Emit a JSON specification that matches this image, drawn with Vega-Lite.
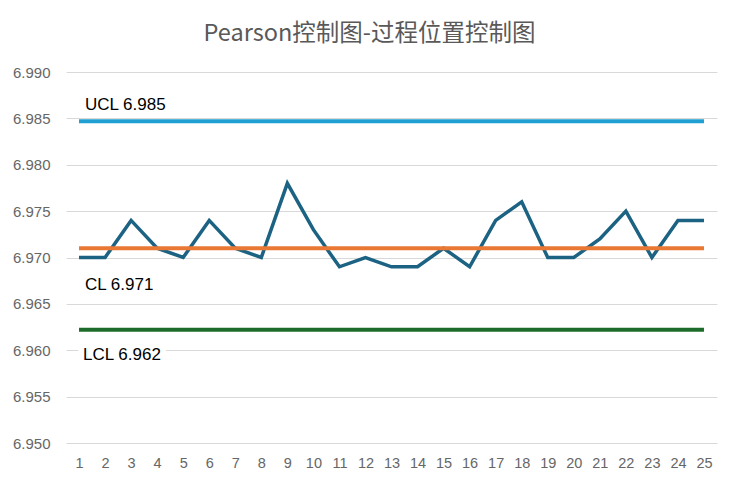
{
  "$schema": "https://vega.github.io/schema/vega-lite/v6.json",
  "autosize": "none",
  "padding": {"left": 66, "top": 72, "right": 22, "bottom": 43},
  "width": 651,
  "height": 371,
  "background": "white",
  "title": {
    "text": "Pearson控制图-过程位置控制图",
    "font": "Noto Sans CJK SC",
    "fontSize": 23.5,
    "fontWeight": "normal",
    "color": "#595959",
    "anchor": "middle",
    "dx": -22,
    "offset": 20
  },
  "data": {
    "values": [
      {"n": 1, "value": 6.970, "ucl": 6.9847, "cl": 6.971, "lcl": 6.9622},
      {"n": 2, "value": 6.970, "ucl": 6.9847, "cl": 6.971, "lcl": 6.9622},
      {"n": 3, "value": 6.974, "ucl": 6.9847, "cl": 6.971, "lcl": 6.9622},
      {"n": 4, "value": 6.971, "ucl": 6.9847, "cl": 6.971, "lcl": 6.9622},
      {"n": 5, "value": 6.970, "ucl": 6.9847, "cl": 6.971, "lcl": 6.9622},
      {"n": 6, "value": 6.974, "ucl": 6.9847, "cl": 6.971, "lcl": 6.9622},
      {"n": 7, "value": 6.971, "ucl": 6.9847, "cl": 6.971, "lcl": 6.9622},
      {"n": 8, "value": 6.970, "ucl": 6.9847, "cl": 6.971, "lcl": 6.9622},
      {"n": 9, "value": 6.978, "ucl": 6.9847, "cl": 6.971, "lcl": 6.9622},
      {"n": 10, "value": 6.973, "ucl": 6.9847, "cl": 6.971, "lcl": 6.9622},
      {"n": 11, "value": 6.969, "ucl": 6.9847, "cl": 6.971, "lcl": 6.9622},
      {"n": 12, "value": 6.970, "ucl": 6.9847, "cl": 6.971, "lcl": 6.9622},
      {"n": 13, "value": 6.969, "ucl": 6.9847, "cl": 6.971, "lcl": 6.9622},
      {"n": 14, "value": 6.969, "ucl": 6.9847, "cl": 6.971, "lcl": 6.9622},
      {"n": 15, "value": 6.971, "ucl": 6.9847, "cl": 6.971, "lcl": 6.9622},
      {"n": 16, "value": 6.969, "ucl": 6.9847, "cl": 6.971, "lcl": 6.9622},
      {"n": 17, "value": 6.974, "ucl": 6.9847, "cl": 6.971, "lcl": 6.9622},
      {"n": 18, "value": 6.976, "ucl": 6.9847, "cl": 6.971, "lcl": 6.9622},
      {"n": 19, "value": 6.970, "ucl": 6.9847, "cl": 6.971, "lcl": 6.9622},
      {"n": 20, "value": 6.970, "ucl": 6.9847, "cl": 6.971, "lcl": 6.9622},
      {"n": 21, "value": 6.972, "ucl": 6.9847, "cl": 6.971, "lcl": 6.9622},
      {"n": 22, "value": 6.975, "ucl": 6.9847, "cl": 6.971, "lcl": 6.9622},
      {"n": 23, "value": 6.970, "ucl": 6.9847, "cl": 6.971, "lcl": 6.9622},
      {"n": 24, "value": 6.974, "ucl": 6.9847, "cl": 6.971, "lcl": 6.9622},
      {"n": 25, "value": 6.974, "ucl": 6.9847, "cl": 6.971, "lcl": 6.9622}
    ]
  },
  "encoding": {
    "x": {
      "field": "n",
      "type": "ordinal",
      "scale": {"type": "point", "padding": 0.5},
      "axis": {
        "title": null,
        "labelAngle": 0,
        "domain": false,
        "ticks": false,
        "grid": false,
        "labelPadding": 13,
        "labelFont": "Liberation Sans",
        "labelFontSize": 14.5,
        "labelColor": "#666666"
      }
    }
  },
  "layer": [
    {
      "mark": {"type": "line", "color": "#1b6283", "strokeWidth": 3.5, "strokeJoin": "miter"},
      "encoding": {
        "y": {
          "field": "value",
          "type": "quantitative",
          "scale": {"domain": [6.95, 6.99], "nice": false, "zero": false},
          "axis": {
            "title": null,
            "values": [6.95, 6.955, 6.96, 6.965, 6.97, 6.975, 6.98, 6.985, 6.99],
            "format": ".3f",
            "domain": false,
            "ticks": false,
            "gridColor": "#d9d9d9",
            "gridWidth": 1,
            "labelPadding": 16,
            "labelFont": "Liberation Sans",
            "labelFontSize": 15,
            "labelColor": "#666666"
          }
        }
      }
    },
    {
      "mark": {"type": "line", "color": "#1f9fd2", "strokeWidth": 4},
      "encoding": {"y": {"field": "ucl", "type": "quantitative"}}
    },
    {
      "mark": {"type": "line", "color": "#e97834", "strokeWidth": 4},
      "encoding": {"y": {"field": "cl", "type": "quantitative"}}
    },
    {
      "mark": {"type": "line", "color": "#1d6b2a", "strokeWidth": 4},
      "encoding": {"y": {"field": "lcl", "type": "quantitative"}}
    },
    {
      "transform": [{"filter": "datum.n == 1"}],
      "mark": {"type": "text", "align": "left", "baseline": "middle", "dx": 6, "dy": -16, "font": "Liberation Sans", "fontSize": 17, "color": "#000000"},
      "encoding": {"y": {"field": "ucl", "type": "quantitative"}, "text": {"value": "UCL 6.985"}}
    },
    {
      "transform": [{"filter": "datum.n == 1"}],
      "mark": {"type": "text", "align": "left", "baseline": "middle", "dx": 6, "dy": 37, "font": "Liberation Sans", "fontSize": 17, "color": "#000000"},
      "encoding": {"y": {"field": "cl", "type": "quantitative"}, "text": {"value": "CL 6.971"}}
    },
    {
      "transform": [{"filter": "datum.n == 1"}],
      "mark": {"type": "text", "align": "left", "baseline": "middle", "dx": 4, "dy": 25, "font": "Liberation Sans", "fontSize": 17, "color": "white", "stroke": "white", "strokeWidth": 12},
      "encoding": {"y": {"field": "lcl", "type": "quantitative"}, "text": {"value": "LCL 6.962"}}
    },
    {
      "transform": [{"filter": "datum.n == 1"}],
      "mark": {"type": "text", "align": "left", "baseline": "middle", "dx": 4, "dy": 25, "font": "Liberation Sans", "fontSize": 17, "color": "#000000"},
      "encoding": {"y": {"field": "lcl", "type": "quantitative"}, "text": {"value": "LCL 6.962"}}
    }
  ],
  "config": {"view": {"stroke": null}}
}
